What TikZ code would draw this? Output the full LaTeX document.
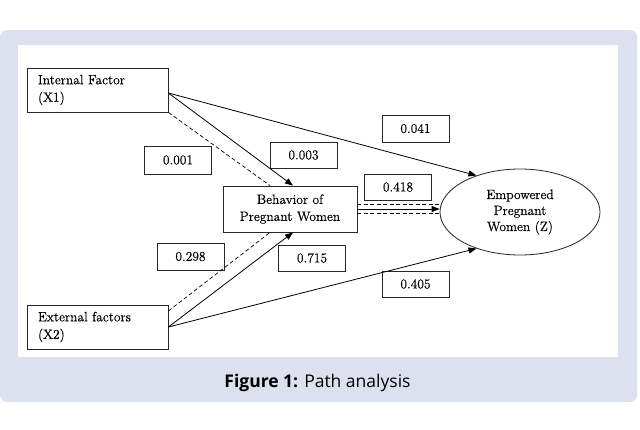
\documentclass[tikz,border=0pt]{standalone}
\usepackage{fontspec}
\newfontfamily\capfont{Open Sans}
\newfontfamily\dfont[FakeBold=0.4]{Latin Modern Roman}
\usetikzlibrary{arrows.meta,shapes.geometric}
\definecolor{panel}{RGB}{221,224,238}
\begin{document}
\begin{tikzpicture}[x=1pt,y=-1pt,
  box/.style={draw=black!85,line width=0.8pt,rectangle,inner sep=0pt},
  numbox/.style={box,fill=white,minimum width=67pt,minimum height=26pt,font=\dfont\fontsize{13.5}{16}\selectfont},
  varbox/.style={box,minimum width=141pt,minimum height=44pt,text width=119pt,align=left,font=\dfont\fontsize{13.5}{17.5}\selectfont},
  arr/.style={line width=0.8pt,-{Triangle[length=8pt,width=6pt]}},
  dsh/.style={line width=0.7pt,dash pattern=on 4pt off 2.5pt}]
\useasboundingbox (0,0) rectangle (640,429);
\fill[white] (0,0) rectangle (640,429);
\fill[panel,rounded corners=7pt] (0,30) rectangle (637,402);
\fill[white] (18,45) rectangle (618,357);

% main nodes
\node[varbox] (X1) at (97.5,90) {Internal Factor\\(X1)};
\node[varbox] (X2) at (97.5,327) {External factors\\(X2)};
\node[box,minimum width=134pt,minimum height=46pt,align=center,font=\dfont\fontsize{13.5}{17}\selectfont] (B) at (290,209) {Behavior of\\Pregnant Women};
\node[draw=black!85,line width=0.8pt,ellipse,minimum width=160pt,minimum height=86pt,inner sep=0pt,align=center,font=\dfont\fontsize{13.5}{16}\selectfont] (Z) at (520,212) {Empowered\\Pregnant\\Women (Z)};

% coefficient labels
\node[numbox,minimum height=28pt] (l001) at (178,160) {0.001};
\node[numbox] (l003) at (303.5,155) {0.003};
\node[numbox,minimum height=27pt] (l041) at (415.5,128.5) {0.041};
\node[numbox] (l418) at (398,187) {0.418};
\node[numbox,minimum height=27pt] (l298) at (190.5,256.5) {0.298};
\node[numbox] (l715) at (312,258) {0.715};
\node[numbox] (l405) at (415.5,284) {0.405};

% connectors
\coordinate (x1s) at ([yshift=-3pt]X1.east);
\coordinate (x2d) at ([yshift=16pt]X2.east);
\coordinate (btop) at ([yshift=4.5pt]B.east);
\coordinate (bbot) at ([yshift=-4.5pt]B.east);

\draw[arr] (x1s) -- (Z.140);
\draw[arr] (x1s) -- ([xshift=3pt]B.north);
\draw[dsh] (X1.south east) -- ([xshift=-20pt]B.north);

\draw[arr] (X2.east) -- ([xshift=3pt]B.south);
\draw[dsh] (x2d) -- ([xshift=-20pt]B.south);
\draw[arr] (X2.east) -- (Z.220);

\draw[arr] (B.east) -- (B.east -| Z.west);
\draw[dsh] (btop) -- (btop -| Z.west);
\draw[dsh] (bbot) -- (bbot -| Z.west);

% caption
\node[font=\capfont\fontsize{17.5}{20}\selectfont,anchor=base,inner sep=0pt] (cap) at (317.5,387) {\textbf{Figure 1:} Path analysis};
\end{tikzpicture}
\end{document}
